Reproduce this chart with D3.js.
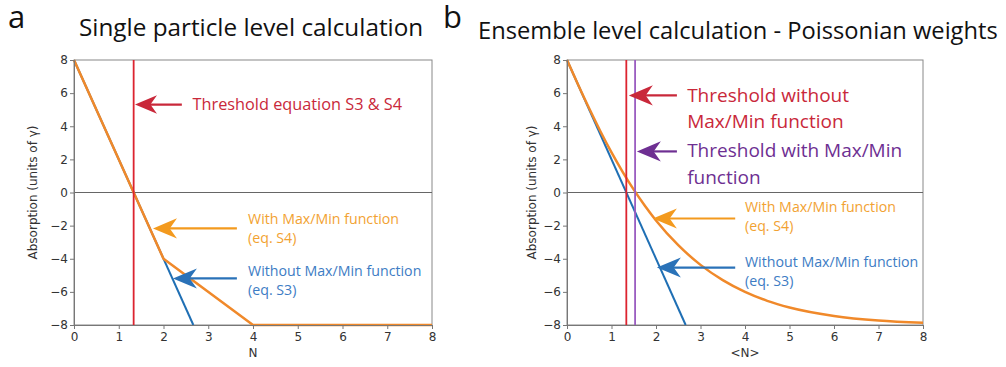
<!DOCTYPE html>
<html>
<head>
<meta charset="utf-8">
<script src="https://cdn.jsdelivr.net/npm/d3@7"></script>
<style>
  body { margin: 0; background: #fff; }
  svg { display: block; }
  .tick text { font-family: "DejaVu Sans", sans-serif; font-size: 12px; fill: #333; }
  .tick line, .domain { stroke: #777; }
  .ann { font-family: "Open Sans", sans-serif; }
</style>
</head>
<body>
<svg width="1006" height="367"></svg>
<script>
// axis ticks
var xTicks = [0, 1, 2, 3, 4, 5, 6, 7, 8];
var yTicks = [-8, -6, -4, -2, 0, 2, 4, 6, 8];

// panel a: single particle
var singleN = [0, 2, 4, 8];
var singleWith = [8, -4, -8, -8];
var singleNoN = [0, 2.667];
var singleNo = [8, -8];
var singleThreshold = 1.333;

// panel b: ensemble, Poisson weights
var ensN = [0, 0.25, 0.5, 0.75, 1, 1.25, 1.5, 1.75, 2, 2.5, 3, 3.5, 4, 4.5, 5, 6, 7, 8];
var ensWith = [8, 6.51, 5.07, 3.70, 2.42, 1.25, 0.17, -0.80, -1.69, -3.18, -4.37, -5.29, -6.00, -6.54, -6.94, -7.45, -7.73, -7.87];
var ensNoN = [0, 2.667];
var ensNo = [8, -8];
var ensThresholdNo = 1.333;
var ensThresholdWith = 1.53;

var orange = "#f0892a", blue = "#1f6fb4", red = "#dc2430", purple = "#9a5cc0";
var orangeText = "#f2a232", blueText = "#3d7cc4", redText = "#c9283a", purpleText = "#6e2f92";

var svg = d3.select("svg");

var panels = [
  {
    left: 74, right: 432, letter: "a", letterX: 8,
    title: "Single particle level calculation", titleX: 79, titleY: 36, titleSize: 24.3,
    xlabel: "N", ylabelX: 33, curve: d3.curveLinear,
    curves: [
      { xs: singleNoN, ys: singleNo, color: blue, w: 2 },
      { xs: singleN, ys: singleWith, color: orange, w: 2.5 }
    ],
    vlines: [{ x: singleThreshold, color: red }],
    arrows: [
      { tip: [1.363, 5.31], tail: 2.41, color: redText, head: 22,
        lines: ["Threshold equation S3 & S4"], textX: 2.65, size: 16.3, dy: 5, color2: redText },
      { tip: [1.765, -2.17], tail: 3.64, color: "#f39a1e", head: 24,
        lines: ["With Max/Min function", "(eq. S4)"], textX: 3.89, size: 14.2, dy: -4, color2: orangeText },
      { tip: [2.21, -5.19], tail: 3.64, color: "#2a72b8", head: 24,
        lines: ["Without Max/Min function", "(eq. S3)"], textX: 3.89, size: 14.2, dy: -2, color2: blueText }
    ]
  },
  {
    left: 567, right: 923, letter: "b", letterX: 443,
    title: "Ensemble level calculation - Poissonian weights", titleX: 478, titleY: 39, titleSize: 23.7,
    xlabel: "<N>", ylabelX: 532, curve: d3.curveMonotoneX,
    curves: [
      { xs: ensNoN, ys: ensNo, color: blue, w: 2 },
      { xs: ensN, ys: ensWith, color: orange, w: 2.5 }
    ],
    vlines: [{ x: ensThresholdNo, color: red }, { x: ensThresholdWith, color: purple }],
    arrows: [
      { tip: [1.39, 5.86], tail: 2.47, color: redText, head: 24,
        lines: ["Threshold without", "Max/Min function"], textX: 2.70, size: 19, dy: 7, color2: redText, lh: 26 },
      { tip: [1.57, 2.48], tail: 2.47, color: purpleText, head: 24,
        lines: ["Threshold with Max/Min", "function"], textX: 2.70, size: 19, dy: 6, color2: purpleText, lh: 27 },
      { tip: [1.93, -1.57], tail: 3.78, color: "#f39a1e", head: 24,
        lines: ["With Max/Min function", "(eq. S4)"], textX: 4.0, size: 14.2, dy: -7, color2: orangeText },
      { tip: [2.02, -4.53], tail: 3.78, color: "#2a72b8", head: 24,
        lines: ["Without Max/Min function", "(eq. S3)"], textX: 4.0, size: 14.2, dy: -1, color2: blueText }
    ]
  }
];

var plotTop = 60, plotBottom = 325;

panels.forEach(function(p) {
  var x = d3.scaleLinear().domain([0, 8]).range([p.left, p.right]);
  var y = d3.scaleLinear().domain([-8, 8]).range([plotBottom, plotTop]);
  var g = svg.append("g");

  // panel letter and title
  g.append("text").attr("class", "ann").attr("x", p.letterX).attr("y", 28)
    .style("font-size", "31px").style("fill", "#111").text(p.letter);
  g.append("text").attr("class", "ann").attr("x", p.titleX).attr("y", p.titleY)
    .style("font-size", p.titleSize + "px").style("fill", "#111").text(p.title);

  // frame
  g.append("rect").attr("x", p.left).attr("y", plotTop)
    .attr("width", p.right - p.left).attr("height", plotBottom - plotTop)
    .attr("fill", "none").attr("stroke", "#888").attr("stroke-width", 1);

  // zero line
  g.append("line").attr("x1", p.left).attr("x2", p.right)
    .attr("y1", y(0)).attr("y2", y(0)).attr("stroke", "#666").attr("stroke-width", 1.2);

  // curves
  var line = d3.line().curve(p.curve);
  p.curves.forEach(function(c) {
    g.append("path")
      .attr("d", line(c.xs.map(function(v, i) { return [x(v), y(c.ys[i])]; })))
      .attr("fill", "none").attr("stroke", c.color).attr("stroke-width", c.w)
      .attr("stroke-linejoin", "round");
  });

  // threshold lines
  p.vlines.forEach(function(v) {
    g.append("line").attr("x1", x(v.x)).attr("x2", x(v.x))
      .attr("y1", plotTop).attr("y2", plotBottom)
      .attr("stroke", v.color).attr("stroke-width", 1.8);
  });

  // axes
  g.append("g").attr("transform", "translate(0," + plotBottom + ")")
    .call(d3.axisBottom(x).tickValues(xTicks).tickSize(4).tickPadding(3).tickFormat(d3.format("d")));
  g.append("g").attr("transform", "translate(" + p.left + ",0)")
    .call(d3.axisLeft(y).tickValues(yTicks).tickSize(4).tickPadding(2)
      .tickFormat(function(d) { return d < 0 ? "\u2212" + Math.abs(d) : d; }));

  g.append("text").attr("x", (p.left + p.right) / 2).attr("y", 357)
    .attr("text-anchor", "middle")
    .style("font-family", "DejaVu Sans, sans-serif").style("font-size", "12px").style("fill", "#333")
    .text(p.xlabel);
  g.append("text")
    .attr("transform", "translate(" + p.ylabelX + "," + (plotTop + plotBottom) / 2 + ") rotate(-90)")
    .attr("text-anchor", "middle").attr("dy", "0.35em")
    .style("font-family", "DejaVu Sans, sans-serif").style("font-size", "12px").style("fill", "#333")
    .text("Absorption (units of \u03b3)");

  // annotation arrows
  p.arrows.forEach(function(a) {
    var tx = x(a.tip[0]), ty = y(a.tip[1]), ex = x(a.tail);
    var h = a.head, hw = h * 0.42;
    g.append("line").attr("x1", tx + h * 0.6).attr("x2", ex)
      .attr("y1", ty).attr("y2", ty)
      .attr("stroke", a.color).attr("stroke-width", 2.2);
    g.append("path")
      .attr("d", "M" + tx + "," + ty +
        "L" + (tx + h) + "," + (ty - hw) +
        "L" + (tx + h * 0.7) + "," + ty +
        "L" + (tx + h) + "," + (ty + hw) + "Z")
      .attr("fill", a.color);
    var t = g.append("text").attr("class", "ann")
      .attr("x", x(a.textX)).attr("y", ty + a.dy)
      .style("font-size", a.size + "px").style("fill", a.color2);
    a.lines.forEach(function(s, i) {
      t.append("tspan").attr("x", x(a.textX)).attr("dy", i === 0 ? 0 : (a.lh || 19)).text(s);
    });
  });
});
</script>
</body>
</html>
